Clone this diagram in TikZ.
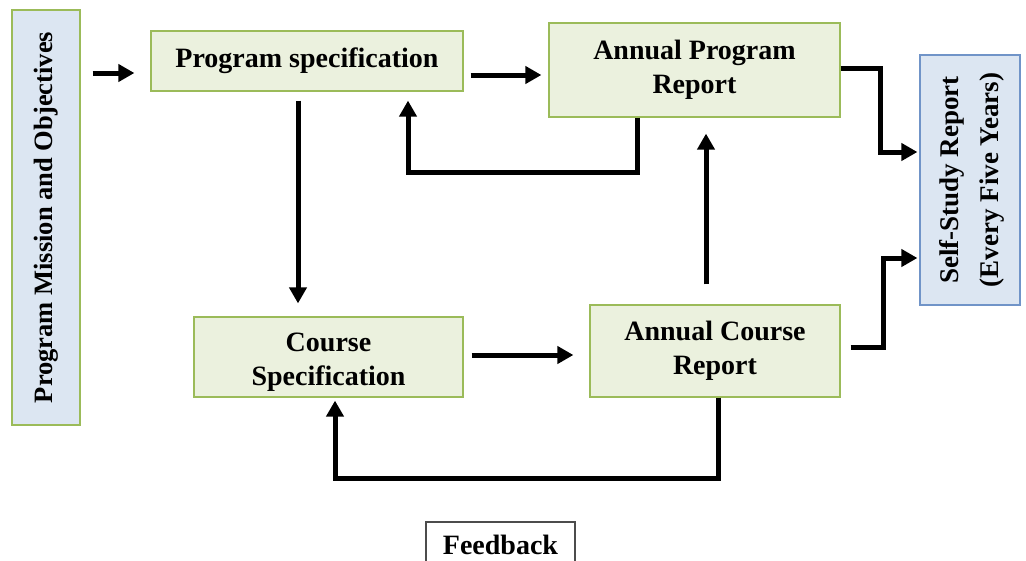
\documentclass[tikz,border=0pt]{standalone}
\usepackage{fontspec}
\setmainfont{Liberation Serif}
\usetikzlibrary{arrows.meta,calc}
\definecolor{boxgreen}{HTML}{EBF1DE}
\definecolor{edgegreen}{HTML}{9BBB59}
\definecolor{boxblue}{HTML}{DCE6F2}
\definecolor{edgeblue}{HTML}{7094C8}
\begin{document}
\begin{tikzpicture}[x=1pt,y=-1pt,
  every node/.style={font=\fontsize{28}{34}\selectfont\bfseries, align=center, inner sep=0pt},
  stage/.style={draw=edgegreen, fill=boxgreen, line width=1.2pt},
  goal/.style={draw=edgegreen, fill=boxblue, line width=1.2pt},
  summary/.style={draw=edgeblue, fill=boxblue, line width=1.2pt},
  note/.style={draw=black!70, fill=white, line width=1.2pt},
  arr/.style={line width=5pt, -{Triangle[length=16pt,width=17pt]}},
]
\useasboundingbox (0,0) rectangle (1026,560);
\clip (0,0) rectangle (1026,560);

% boxes
\node[goal, minimum width=68pt, minimum height=415pt] (mission) at (46,217.5)
  {\rotatebox{90}{\fontsize{26.5}{32}\selectfont Program Mission and Objectives}};
\node[stage, minimum width=312pt, minimum height=60pt] (progspec) at (307,61)
  {Program specification};
\node[stage, minimum width=291pt, minimum height=94pt] (apr) at (694.5,70)
  {Annual Program\\Report};
\node[summary, minimum width=100pt, minimum height=250pt] (ssr) at (970,180)
  {\rotatebox{90}{\fontsize{27}{40}\selectfont\begin{tabular}{@{}c@{}}Self-Study Report\\(Every Five Years)\end{tabular}}};
\node[stage, minimum width=269pt, minimum height=80pt] (cspec) at (328.5,357)
  {\raisebox{-5pt}[\height][\depth]{\begin{tabular}{@{}c@{}}Course\\Specification\end{tabular}}};
\node[stage, minimum width=250pt, minimum height=92pt] (acr) at (715,351)
  {Annual Course\\Report};
\node[note, minimum width=149pt, minimum height=46pt] (fb) at (500.5,545)
  {Feedback};

% helper points for the connectors
\coordinate (inA) at ([yshift=-12pt]progspec.west);
\coordinate (inB) at ([yshift=-14pt]progspec.east);
\coordinate (fbA) at (408,172);
\coordinate (fbB) at (335,478);

% connectors
\draw[arr, shorten <=12pt, shorten >=16pt] (mission.east |- inA) -- (inA);
\draw[arr, shorten <=7pt, shorten >=7pt] (inB) -- (inB -| apr.west);
\draw[arr, shorten >=2pt] ([yshift=2pt]apr.east) -- ++(40,0) |- ([yshift=28pt]ssr.west);
\draw[arr, shorten >=2pt, shorten <=10pt] ([yshift=4pt]acr.east) -- ++(43,0) |- ([yshift=-78pt]ssr.west);
\draw[arr, shorten >=9pt] ([xshift=-57.5pt]apr.south) |- (fbA) -- (fbA |- progspec.south);
\draw[arr, shorten <=9pt, shorten >=13pt] ([xshift=-9pt]progspec.south) -- ([xshift=-9pt]progspec.south |- cspec.north);
\draw[arr, shorten <=8pt, shorten >=16pt] ([yshift=2pt]cspec.east) -- ([yshift=2pt]cspec.east -| acr.west);
\draw[arr, shorten <=20pt, shorten >=16pt] ([xshift=-9pt]acr.north) -- ([xshift=-9pt]acr.north |- apr.south);
\draw[arr, shorten >=3pt] ([xshift=3pt]acr.south) |- (fbB) -- (fbB |- cspec.south);
\end{tikzpicture}
\end{document}
